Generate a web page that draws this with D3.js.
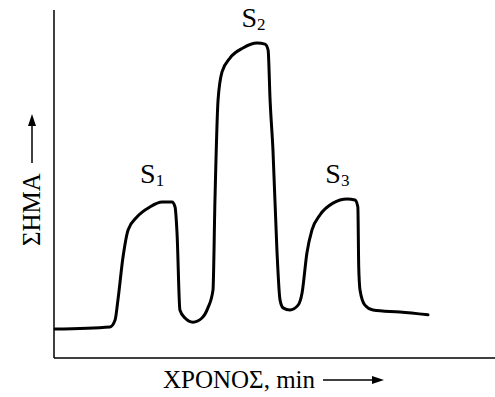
<!DOCTYPE html>
<html>
<head>
<meta charset="utf-8">
<script src="https://cdn.jsdelivr.net/npm/d3@7"></script>
<style>
  body { margin: 0; background: #fff; }
</style>
</head>
<body>
<div id="chart"></div>
<script>
// Time (min, arbitrary scale) and detector signal
const times = [0.05, 2.54, 2.77, 2.90, 3.13, 3.36, 3.76, 4.35, 4.90, 5.35, 5.49, 5.58, 5.71, 5.94, 6.30,
  6.71, 6.98, 7.21, 7.30, 7.44, 7.62, 7.98, 8.57, 9.21, 9.57, 9.71, 9.80, 9.93, 10.11, 10.25, 10.39,
  10.70, 11.07, 11.25, 11.47, 11.70, 12.06, 12.65, 13.29, 13.65, 13.78, 13.82, 13.88, 14.10, 14.47, 15.69, 16.96];
const signal = [8.3, 8.9, 10.9, 16.7, 29.0, 36.8, 40.5, 43.4, 44.8, 44.8, 43.4, 35.9, 13.8, 11.5, 10.3,
  11.5, 14.4, 19.5, 45.4, 74.1, 82.2, 86.2, 89.1, 90.5, 90.2, 88.5, 74.1, 59.8, 31.0, 16.7, 14.4,
  13.8, 15.2, 18.7, 30.2, 36.8, 41.1, 44.5, 45.7, 45.4, 43.4, 26.1, 19.5, 15.2, 13.8, 13.2, 12.4];

// Peak labels
const peakNames = ["S", "S", "S"];
const peakSubs = ["1", "2", "3"];
const peakTimes = [4.45, 9.05, 12.85];
const peakLabelY = [50.4, 95.1, 50.4];

const xLabel = "ΧΡΟΝΟΣ, min";
const yLabel = "ΣΗΜΑ";

const width = 495, height = 397;
const margin = {top: 10, right: 0, bottom: 39, left: 54};
const serif = "Liberation Serif";

const svg = d3.select("#chart").append("svg")
    .attr("width", width)
    .attr("height", height);

const x = d3.scaleLinear()
    .domain([0, 20])
    .range([margin.left, width - margin.right]);

const y = d3.scaleLinear()
    .domain([0, 100])
    .range([height - margin.bottom, margin.top]);

// Axes: plain lines, no ticks
svg.append("line")
    .attr("x1", x(0)).attr("x2", x(0))
    .attr("y1", y(100)).attr("y2", y(0))
    .attr("stroke", "#000").attr("stroke-width", 1.5);

svg.append("line")
    .attr("x1", x(0)).attr("x2", x(20))
    .attr("y1", y(0)).attr("y2", y(0))
    .attr("stroke", "#000").attr("stroke-width", 1.5);

// Trace
const data = times.map((t, i) => ({t: t, s: signal[i]}));

const line = d3.line()
    .x(d => x(d.t))
    .y(d => y(d.s))
    .curve(d3.curveMonotoneX);

svg.append("path")
    .datum(data)
    .attr("d", line)
    .attr("fill", "none")
    .attr("stroke", "#000")
    .attr("stroke-width", 3)
    .attr("stroke-linejoin", "round")
    .attr("stroke-linecap", "round");

// Peak labels
peakNames.forEach((n, i) => {
    const t = svg.append("text")
        .attr("x", x(peakTimes[i]))
        .attr("y", y(peakLabelY[i]))
        .attr("text-anchor", "middle")
        .attr("font-family", serif)
        .attr("font-size", 28);
    t.append("tspan").text(n);
    t.append("tspan")
        .attr("dy", 3)
        .attr("font-size", 17)
        .text(peakSubs[i]);
});

// x axis label with arrow (line + filled head)
svg.append("text")
    .attr("x", 163)
    .attr("y", 388)
    .attr("font-family", serif)
    .attr("font-size", 25)
    .text(xLabel);

svg.append("line")
    .attr("x1", 323).attr("x2", 374)
    .attr("y1", 380).attr("y2", 380)
    .attr("stroke", "#000").attr("stroke-width", 1.5);
svg.append("path")
    .attr("d", "M372,376 L384,380 L372,384 Z")
    .attr("fill", "#000");

// y axis label with arrow
svg.append("text")
    .attr("transform", "translate(40,246) rotate(-90)")
    .attr("font-family", serif)
    .attr("font-size", 25)
    .text(yLabel);

svg.append("line")
    .attr("x1", 32).attr("x2", 32)
    .attr("y1", 163).attr("y2", 124)
    .attr("stroke", "#000").attr("stroke-width", 1.5);
svg.append("path")
    .attr("d", "M28,126 L32,114 L36,126 Z")
    .attr("fill", "#000");
</script>
</body>
</html>
